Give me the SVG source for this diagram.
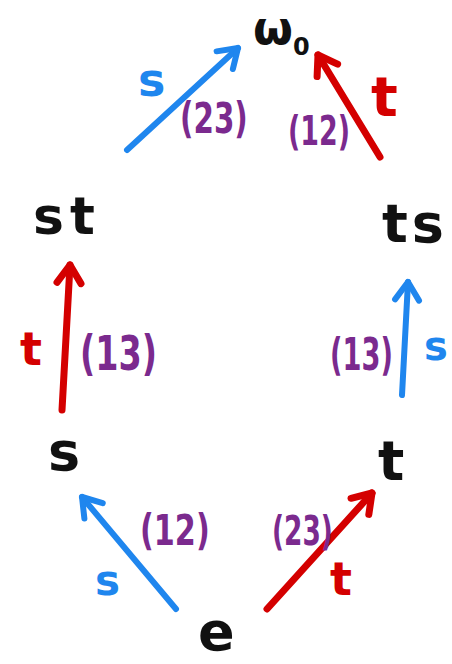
<svg xmlns="http://www.w3.org/2000/svg" width="452" height="664" viewBox="0 0 452 664">
<style>
.node{font-family:"DejaVu Sans",sans-serif;font-weight:bold;fill:#111}
.lab{font-family:"DejaVu Sans",sans-serif;font-weight:bold}
.cyc{fill:#7b2a8e}
.b{fill:#1f86ee}
.r{fill:#d40000}
.eb{stroke:#1f86ee;stroke-width:6;stroke-linecap:round;fill:none}
.er{stroke:#d40000;stroke-width:7;stroke-linecap:round;fill:none}
</style>
<defs>
<marker id="hb" markerUnits="userSpaceOnUse" orient="auto" refX="0" refY="0" viewBox="-30 -20 40 40" markerWidth="40" markerHeight="40" overflow="visible">
<path d="M-18,-12 L0,0 L-18,12" fill="none" stroke="#1f86ee" stroke-width="6" stroke-linecap="round" stroke-linejoin="round"/>
</marker>
<marker id="hr" markerUnits="userSpaceOnUse" orient="auto" refX="0" refY="0" viewBox="-30 -20 40 40" markerWidth="40" markerHeight="40" overflow="visible">
<path d="M-18,-12 L0,0 L-18,12" fill="none" stroke="#d40000" stroke-width="7" stroke-linecap="round" stroke-linejoin="round"/>
</marker>
</defs>
<rect width="452" height="664" fill="#ffffff"/>
<g id="connectors">
<g id="e-s"><path class="eb" d="M176 609 L82 497" marker-end="url(#hb)"/>
<text class="lab b" x="95" y="595" font-size="42">s</text>
<text class="lab cyc" transform="translate(140,545) scale(0.72,1)" font-size="42">(12)</text></g>
<g id="e-t"><path class="er" d="M267 609 L372 493" marker-end="url(#hr)"/>
<text class="lab r" x="330" y="595" font-size="46">t</text>
<text class="lab cyc" transform="translate(272,545) scale(0.66,1)" font-size="40">(23)</text></g>
<g id="s-st"><path class="er" d="M62 410 L70 265" marker-end="url(#hr)"/>
<text class="lab r" x="20" y="365" font-size="46">t</text>
<text class="lab cyc" transform="translate(80,370) scale(0.696,1)" font-size="48">(13)</text></g>
<g id="t-ts"><path class="eb" d="M402 395 L408 282" marker-end="url(#hb)"/>
<text class="lab b" x="424" y="360" font-size="40">s</text>
<text class="lab cyc" transform="translate(330,370) scale(0.62,1)" font-size="44">(13)</text></g>
<g id="st-w0"><path class="eb" d="M127 150 L238 48" marker-end="url(#hb)"/>
<text class="lab b" x="138" y="96" font-size="46">s</text>
<text class="lab cyc" transform="translate(180,133) scale(0.70,1)" font-size="42">(23)</text></g>
<g id="ts-w0"><path class="er" d="M380 157 L318 55" marker-end="url(#hr)"/>
<text class="lab r" x="371" y="116" font-size="56">t</text>
<text class="lab cyc" transform="translate(288,145) scale(0.672,1)" font-size="40">(12)</text></g>
</g>
<g id="node-w0"><text class="node" x="253" y="44" font-size="46">ω<tspan font-size="24" dy="11">0</tspan></text></g>
<g id="node-st"><text class="node" x="33" y="234" font-size="52" letter-spacing="6">st</text></g>
<g id="node-ts"><text class="node" x="382" y="242" font-size="54" letter-spacing="4">ts</text></g>
<g id="node-s"><text class="node" x="48" y="470" font-size="54">s</text></g>
<g id="node-t"><text class="node" x="378" y="480" font-size="55">t</text></g>
<g id="node-e"><text class="node" x="198" y="650" font-size="54">e</text></g>
</svg>
